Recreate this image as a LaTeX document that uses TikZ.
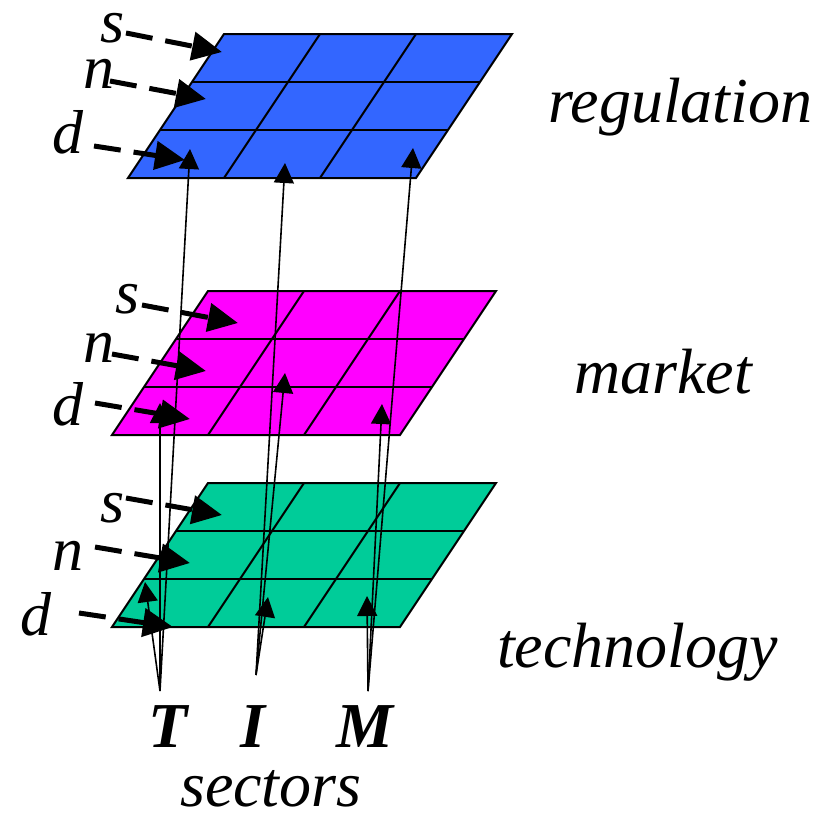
\documentclass[tikz,border=0pt]{standalone}
\usepackage{fontspec}
\setmainfont{Liberation Serif}
\usetikzlibrary{arrows.meta}
\definecolor{regblue}{HTML}{3366FF}
\definecolor{mktmag}{HTML}{FF00FF}
\definecolor{techgreen}{HTML}{00CC99}
\begin{document}
\begin{tikzpicture}[x=1pt,y=-1pt,
  plane/.style={draw=black,line width=2pt,line join=miter},
  gridline/.style={draw=black,line width=2pt},
  inarrow/.style={line width=5pt,dash pattern=on 27pt off 13pt,-{Triangle[length=30pt,width=28pt]}},
  uparrow/.style={line width=1.6pt,-{Triangle[length=20pt,width=20pt]}},
  lbl/.style={font=\fontsize{62}{70}\selectfont\itshape,inner sep=0pt,anchor=base west},
  layername/.style={font=\fontsize{64}{70}\selectfont\itshape,inner sep=0pt,anchor=base west},
  sec/.style={font=\fontsize{64}{70}\selectfont\bfseries\itshape,inner sep=0pt,anchor=base west}]
\useasboundingbox (0,0) rectangle (822,812);

% planes
\foreach \px/\py/\pc in {224/34/regblue, 208/291/mktmag, 208/483/techgreen}{
  \fill[\pc] (\px,\py) -- ++(288,0) -- ++(-96,144) -- ++(-288,0) -- cycle;
  \foreach \k in {1,2}{
    \draw[gridline] (\px-32*\k,\py+48*\k) -- ++(288,0);
    \draw[gridline] (\px+96*\k,\py) -- ++(-96,144);
  }
  \draw[plane] (\px,\py) -- ++(288,0) -- ++(-96,144) -- ++(-288,0) -- cycle;
}

% layer names
\node[layername] (reg) at (548,122) {regulation};
\node[layername] (mkt) at (574,393) {market};
\node[layername] (tech) at (497,667) {technology};

% input labels
\node[lbl] (rs) at (100,42) {s};
\node[lbl] (rn) at (83,88) {n};
\node[lbl] (rd) at (52,153) {d};
\node[lbl] (ms) at (115,313) {s};
\node[lbl] (mn) at (83,362) {n};
\node[lbl] (md) at (52,425) {d};
\node[lbl] (ts) at (100,522) {s};
\node[lbl] (tn) at (52,570) {n};
\node[lbl] (td) at (20,635) {d};

% sectors
\node[sec] (T) at (148,747) {T};
\node[sec] (I) at (240,747) {I};
\node[sec] (M) at (336,747) {M};
\node[layername] (sectors) at (180,806) {sectors};

% arrow end coordinates
\coordinate (rs0) at (126,33);  \coordinate (rs1) at (222,52);
\coordinate (rn0) at (110,81);  \coordinate (rn1) at (206,99);
\coordinate (rd0) at (94,146);  \coordinate (rd1) at (185,160);
\coordinate (ms0) at (142,305); \coordinate (ms1) at (238,323);
\coordinate (mn0) at (112,354); \coordinate (mn1) at (206,371);
\coordinate (md0) at (95,403);  \coordinate (md1) at (190,419);
\coordinate (ts0) at (126,498); \coordinate (ts1) at (222,515);
\coordinate (tn0) at (95,547);  \coordinate (tn1) at (190,563);
\coordinate (td0) at (79,613);  \coordinate (td1) at (173,627);

\coordinate (T0) at (160,691);
\coordinate (I0) at (256,675);
\coordinate (M0) at (368,691);
\coordinate (Tr) at (190,149); \coordinate (Tm) at (160,403); \coordinate (Tt) at (145,582);
\coordinate (Ir) at (285,163); \coordinate (Im) at (285,373); \coordinate (It) at (268,597);
\coordinate (Mr) at (413,148); \coordinate (Mm) at (382,404); \coordinate (Mt) at (367,596);

% sector arrows
\foreach \s in {T,I,M}{
  \foreach \l in {r,m,t}{
    \draw[uparrow] (\s0) -- (\s\l);
  }
}

% input arrows
\foreach \a in {rs,rn,rd,ms,mn,md,ts,tn,td}{
  \draw[inarrow] (\a0) -- (\a1);
}
\end{tikzpicture}
\end{document}
